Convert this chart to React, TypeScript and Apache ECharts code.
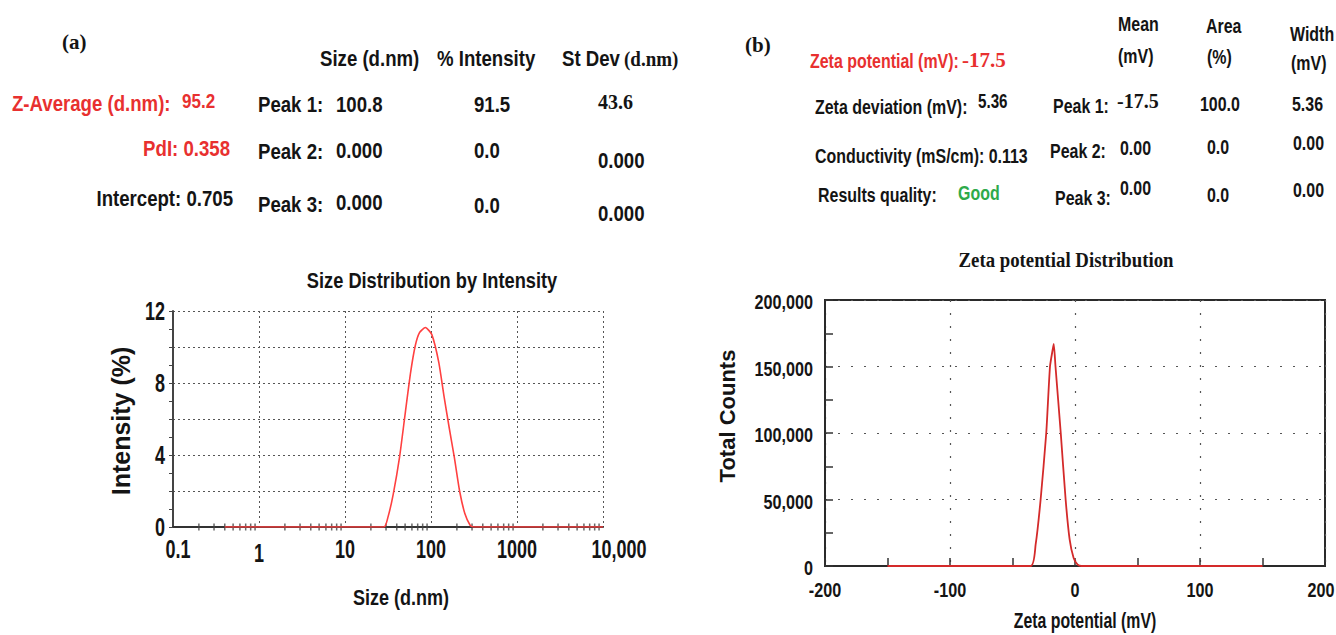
import React, { useEffect, useRef } from "react";
import * as echarts from "echarts";

// ---------- data ----------
const sizeNm = [0.4, 28.3, 31.6, 36.4, 43, 50.4, 58, 65.6, 73.5, 86, 102, 123, 141, 163, 187, 215, 248, 285, 313, 10000];
const intensityPct = [0, 0, 0.55, 1.83, 3.85, 6.4, 8.6, 10.07, 10.8, 11.08, 10.7, 9.16, 7.33, 5.5, 3.85, 2.0, 0.73, 0.1, 0, 0];

const zetaMv = [-150, -35.5, -31.5, -27.5, -23, -20, -17.8, -17, -15.6, -11.4, -7.5, -4.3, -1.1, 2.1, 5.3, 150];
const zetaCounts = [0, 0, 16000, 50000, 100000, 150000, 163000, 167000, 150000, 100000, 50000, 20000, 6000, 1000, 0, 0];

const sizeTicks = [0.1, 1, 10, 100, 1000, 10000];
const sizeTickLabels = ["0.1", "1", "10", "100", "1000", "10,000"];
const sizeMinorDecades = [0.1, 1, 10, 100, 1000];
const intensityTicks = [0, 4, 8, 12];
const zetaTicks = [-200, -100, 0, 100, 200];
const countTicks = [0, 50000, 100000, 150000, 200000];

const leftHeader = ["Size (d.nm)", "% Intensity", "St Dev"];
const leftSummary = ["Z-Average (d.nm):", "95.2", "PdI: 0.358", "Intercept: 0.705"];
const leftPeaks = [
  ["Peak 1:", "100.8", "91.5", "43.6"],
  ["Peak 2:", "0.000", "0.0", "0.000"],
  ["Peak 3:", "0.000", "0.0", "0.000"],
];
const rightSummary = [
  ["Zeta potential (mV):", "-17.5"],
  ["Zeta deviation (mV):", "5.36"],
  ["Conductivity (mS/cm): 0.113", ""],
  ["Results quality:", "Good"],
];
const rightHeader = [["Mean", "(mV)"], ["Area", "(%)"], ["Width", "(mV)"]];
const rightPeaks = [
  ["Peak 1:", "-17.5", "100.0", "5.36"],
  ["Peak 2:", "0.00", "0.0", "0.00"],
  ["Peak 3:", "0.00", "0.0", "0.00"],
];

const SANS = "'Liberation Sans', Arial, sans-serif";
const SERIF = "'Liberation Serif', 'Times New Roman', serif";
const RED = "#e8302f";
const INK = "#141414";

function txt(x: number, y: number, text: string, o: any = {}) {
  return {
    type: "text",
    x,
    y,
    rotation: o.rotation || 0,
    scaleX: o.sx || 1,
    silent: true,
    z: 10,
    style: {
      text,
      fill: o.fill || INK,
      fontFamily: o.family || SANS,
      fontWeight: o.weight || "bold",
      fontSize: o.size || 21,
      align: o.align || "left",
      verticalAlign: "middle",
    },
  };
}

export default function App() {
  const ref = useRef<HTMLDivElement>(null);
  useEffect(() => {
    document.body.style.margin = "0";
    const chart = echarts.init(ref.current!, null, { renderer: "svg" });

    const sizeMinor: number[][] = [];
    sizeMinorDecades.forEach((d) => {
      for (let m = 2; m <= 9; m++) sizeMinor.push([d * m, 0]);
    });

    chart.setOption({
      animation: false,
      backgroundColor: "#ffffff",
      grid: [
        { left: 173, top: 311, width: 430, height: 216, show: false },
        { left: 825, top: 300, width: 500, height: 266, show: true, borderColor: "#2a2a2a", borderWidth: 2 },
      ],
      xAxis: [
        {
          gridIndex: 0,
          type: "log",
          logBase: 10,
          min: 0.1,
          max: 10000,
          axisLine: { show: true, lineStyle: { color: "#333", width: 2 } },
          axisTick: { show: false },
          axisLabel: { show: false },
          splitLine: { show: true, lineStyle: { color: "#555", type: [2, 3], width: 1 } },
        },
        {
          gridIndex: 1,
          type: "value",
          min: -200,
          max: 200,
          interval: 100,
          axisLine: { show: true, onZero: false, lineStyle: { color: "#2a2a2a", width: 2 } },
          axisTick: { show: true, inside: true, length: 8, lineStyle: { color: "#333", width: 1.5 } },
          minorTick: { show: true, splitNumber: 2, length: 8, lineStyle: { color: "#333", width: 1.5 } },
          axisLabel: { show: false },
          splitLine: { show: true, lineStyle: { color: "#555", type: [2, 11], width: 1.2 } },
        },
      ],
      yAxis: [
        {
          gridIndex: 0,
          type: "value",
          min: 0,
          max: 12,
          interval: 2,
          axisLine: { show: true, onZero: false, lineStyle: { color: "#444", width: 2 } },
          axisTick: { show: true, length: 4, lineStyle: { color: "#444" } },
          minorTick: { show: true, splitNumber: 2, length: 4, lineStyle: { color: "#444" } },
          axisLabel: { show: false },
          splitLine: { show: true, lineStyle: { color: "#555", type: [2, 3], width: 1 } },
        },
        {
          gridIndex: 1,
          type: "value",
          min: 0,
          max: 200000,
          interval: 50000,
          axisLine: { show: true, onZero: false, lineStyle: { color: "#2a2a2a", width: 2 } },
          axisTick: { show: true, inside: true, length: 8, lineStyle: { color: "#333", width: 1.5 } },
          minorTick: { show: true, splitNumber: 2, length: 8, lineStyle: { color: "#333", width: 1.5 } },
          axisLabel: { show: false },
          splitLine: { show: true, lineStyle: { color: "#555", type: [2, 11], width: 1.2 } },
        },
      ],
      series: [
        {
          type: "scatter",
          xAxisIndex: 0,
          yAxisIndex: 0,
          data: sizeMinor,
          symbol: "rect",
          symbolSize: [1.5, 7],
          itemStyle: { color: "#444" },
          silent: true,
          z: 2,
        },
        {
          type: "line",
          xAxisIndex: 0,
          yAxisIndex: 0,
          data: sizeNm.map((x, i) => [x, intensityPct[i]]),
          showSymbol: false,
          smooth: 0.2,
          lineStyle: { color: "#ff4040", width: 1.6 },
          z: 3,
        },
        {
          type: "line",
          xAxisIndex: 1,
          yAxisIndex: 1,
          data: zetaMv.map((x, i) => [x, zetaCounts[i]]),
          showSymbol: false,
          smooth: 0.2,
          lineStyle: { color: "#d42a2a", width: 1.8 },
          z: 3,
        },
      ],
    });

    const g: any[] = [];
    // tick labels, positioned via the chart's own scales
    const L = { size: 25, sx: 0.72 };
    sizeTicks.forEach((v, i) => {
      const p = chart.convertToPixel({ gridIndex: 0 }, [v, 0]) as number[];
      g.push(txt(p[0] + (i === 0 ? 5 : i === 5 ? 16 : 0), p[1] + 22 + (i === 1 ? 4 : 0), sizeTickLabels[i], { ...L, align: "center" }));
    });
    intensityTicks.forEach((v) => {
      const p = chart.convertToPixel({ gridIndex: 0 }, [0.1, v]) as number[];
      g.push(txt(p[0] - 8, p[1], String(v), { ...L, align: "right" }));
    });
    const R = { size: 21, sx: 0.77 };
    zetaTicks.forEach((v, i) => {
      const p = chart.convertToPixel({ gridIndex: 1 }, [v, 0]) as number[];
      g.push(txt(p[0] - (i === zetaTicks.length - 1 ? 4 : 0), p[1] + 24, String(v), { ...R, align: "center" }));
    });
    countTicks.forEach((v) => {
      const p = chart.convertToPixel({ gridIndex: 1 }, [-200, v]) as number[];
      g.push(txt(p[0] - 12, p[1] + 2, v.toLocaleString("en-US"), { ...R, align: "right" }));
    });

    // left panel texts
    const A = { size: 23, sx: 0.81 };
    g.push(txt(62, 42, "(a)", { family: SERIF, size: 21 }));
    const lhX = [320, 437, 562];
    leftHeader.forEach((h, i) => g.push(txt(lhX[i], 58, h, A)));
    g.push(txt(624, 59, "(d.nm)", { family: SERIF, size: 20, sx: 0.95 }));
    g.push(txt(12, 103, leftSummary[0], { ...A, fill: RED }));
    g.push(txt(182, 101, leftSummary[1], { size: 21, sx: 0.81, fill: RED }));
    g.push(txt(230, 148, leftSummary[2], { ...A, fill: RED, align: "right" }));
    g.push(txt(233, 198, leftSummary[3], { ...A, align: "right" }));
    const lpY = [
      [104, 104, 104, 102],
      [151, 150, 150, 160],
      [204, 202, 205, 213],
    ];
    const lpX = [258, 336, 474, 598];
    leftPeaks.forEach((row, r) =>
      row.forEach((c, i) =>
        g.push(txt(lpX[i], lpY[r][i], c, r === 0 && i === 3 ? { family: SERIF, size: 20 } : A))
      )
    );

    // right panel texts
    const B = { size: 21, sx: 0.76 };
    g.push(txt(745, 45, "(b)", { family: SERIF, size: 21 }));
    g.push(txt(810, 61, rightSummary[0][0], { ...B, fill: RED }));
    g.push(txt(962, 60, rightSummary[0][1], { fill: RED, family: SERIF, size: 21 }));
    g.push(txt(815, 107, rightSummary[1][0], B));
    g.push(txt(978, 101, rightSummary[1][1], { size: 20, sx: 0.76 }));
    g.push(txt(815, 156, rightSummary[2][0], B));
    g.push(txt(818, 195, rightSummary[3][0], B));
    g.push(txt(958, 193, rightSummary[3][1], { ...B, fill: "#2eaa4a" }));
    const rhX = [1118, 1206, 1290];
    const rhY = [[24, 56], [26, 57], [34, 63]];
    rightHeader.forEach((h, i) => {
      g.push(txt(rhX[i], rhY[i][0], h[0], B));
      g.push(txt(rhX[i] + (i === 0 ? 0 : 1), rhY[i][1], h[1], B));
    });
    const rpX = [
      [1053, 1117, 1200, 1292],
      [1050, 1120, 1207, 1293],
      [1055, 1120, 1207, 1293],
    ];
    const rpY = [
      [106, 101, 104, 104],
      [151, 148, 147, 143],
      [198, 188, 195, 190],
    ];
    rightPeaks.forEach((row, r) =>
      row.forEach((c, i) =>
        g.push(txt(rpX[r][i], rpY[r][i], c, r === 0 && i === 1 ? { family: SERIF, size: 20 } : B))
      )
    );

    // chart titles
    g.push(txt(432, 280, "Size Distribution by Intensity", { size: 22, sx: 0.83, align: "center" }));
    g.push(txt(121, 421, "Intensity (%)", { size: 25, align: "center", rotation: Math.PI / 2 }));
    g.push(txt(401, 597, "Size (d.nm)", { size: 22, sx: 0.82, align: "center" }));
    g.push(txt(1066, 260, "Zeta potential Distribution", { family: SERIF, size: 20, sx: 0.94, align: "center" }));
    g.push(txt(727, 416, "Total Counts", { size: 22, align: "center", rotation: Math.PI / 2 }));
    g.push(txt(1085, 621, "Zeta potential (mV)", { size: 22, sx: 0.72, align: "center" }));

    chart.setOption({ graphic: g });
    return () => chart.dispose();
  }, []);
  return <div ref={ref} style={{ width: 1336, height: 635 }} />;
}
